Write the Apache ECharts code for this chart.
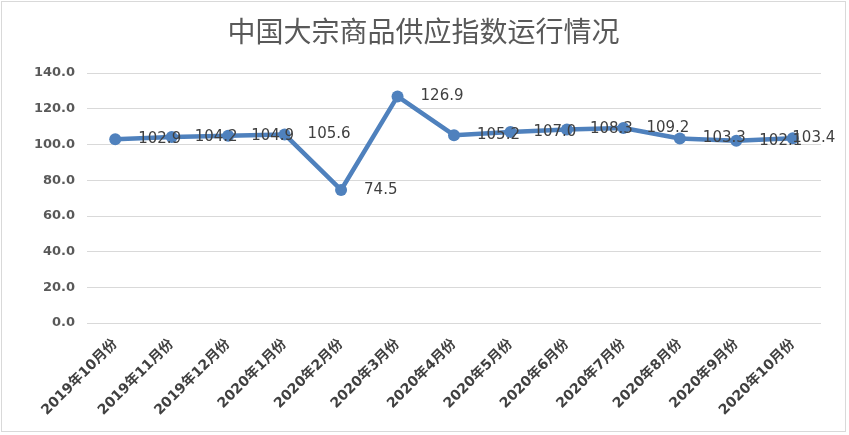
<!DOCTYPE html>
<html><head><meta charset="utf-8">
<script src="https://cdn.jsdelivr.net/npm/echarts@6/dist/echarts.min.js"></script>
<style>
html,body{margin:0;padding:0;background:#fff;}
#c{position:absolute;left:1px;top:1px;width:845px;height:431px;border:1px solid #d9d9d9;box-sizing:border-box;}
</style></head><body>
<div id="c"></div>
<script>
const titleText = '中国大宗商品供应指数运行情况';
const categories = ['2019年10月份','2019年11月份','2019年12月份','2020年1月份','2020年2月份','2020年3月份','2020年4月份','2020年5月份','2020年6月份','2020年7月份','2020年8月份','2020年9月份','2020年10月份'];
const values = [102.9,104.2,104.9,105.6,74.5,126.9,105.2,107.0,108.3,109.2,103.3,102.1,103.4];
const yMin = 0, yMax = 140, yStep = 20;

const seriesData = values.map((v,i)=> i===values.length-1
  ? {value:v,label:{position:'inside',offset:[21,0]}}
  : v);

const chart = echarts.init(document.getElementById('c'));
chart.setOption({
  animation:false,
  title:{text:titleText,left:'center',top:10,textStyle:{fontFamily:'Noto Sans CJK SC',fontSize:28,fontWeight:'normal',color:'#595959'}},
  grid:{left:85,right:24,top:71,bottom:108},
  xAxis:{type:'category',data:categories,boundaryGap:true,
    axisLine:{show:false},axisTick:{show:false},
    axisLabel:{rotate:45,interval:0,margin:19,color:'#404040',fontSize:14,fontWeight:'bold',fontFamily:'DejaVu Sans, Noto Sans CJK SC'}},
  yAxis:{type:'value',min:yMin,max:yMax,interval:yStep,
    axisLine:{show:false},axisTick:{show:false},
    splitLine:{lineStyle:{color:'#d9d9d9',width:1}},
    axisLabel:{formatter:v=>v.toFixed(1),color:'#595959',fontSize:13,fontWeight:'bold',fontFamily:'DejaVu Sans',margin:12}},
  series:[{type:'line',data:seriesData,symbol:'circle',symbolSize:12,
    lineStyle:{color:'#4f81bd',width:4.5},itemStyle:{color:'#4f81bd'},
    label:{show:true,position:'right',distance:17,formatter:p=>p.value.toFixed(1),color:'#404040',fontSize:15,fontFamily:'DejaVu Sans'}}]
});
</script></body></html>
